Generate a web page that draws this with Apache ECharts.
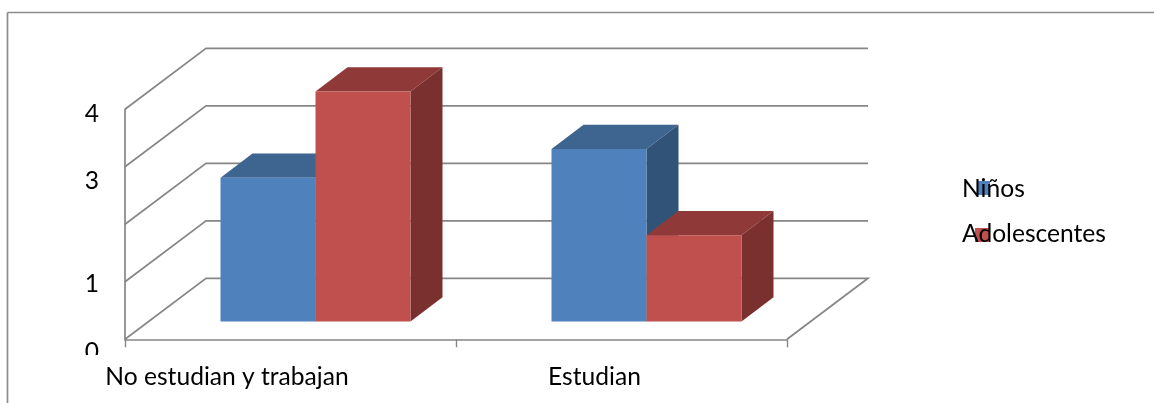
<!DOCTYPE html>
<html>
<head>
<meta charset="utf-8">
<style>html,body{margin:0;padding:0;background:#fff}#chart{width:1154px;height:403px}</style>
<script src="https://cdn.jsdelivr.net/npm/echarts@6/dist/echarts.min.js"></script>
</head>
<body>
<div id="chart"></div>
<script>
// Chart data
const categories = ['No estudian y trabajan', 'Estudian'];
const ninos = [2.5, 3];
const adolescentes = [4, 1.5];
const gridValues = [0, 1, 2, 3, 4];
const seriesNames = ['Niños', 'Adolescentes'];

// Oblique projection of the 3D box: back wall and bar depth, in pixels
const WALL_DX = 81, WALL_DY = -61;
const BAR_OFFSET_X = 25, BAR_OFFSET_Y = -17.7;
const BAR_DX = 32, BAR_DY = -24.3;
const BAR_SHARE = 0.287;
const LINE = '#868686';
const FONT = 'Lato';
const FONT_SIZE = 24.6;

const palette = [
  { front: '#4F81BD', top: '#3E6490', side: '#325378' },
  { front: '#C0504D', top: '#8F3A38', side: '#7A302E' }
];

function poly(points, fill) {
  return { type: 'polygon', shape: { points }, style: { fill, stroke: null } };
}

// Draws one box per category; slot 0 sits left of slot 1
function boxRenderer(slot) {
  const colors = palette[slot];
  return function (params, api) {
    const cat = api.value(0);
    const top = api.coord([cat, api.value(1)]);
    const base = api.coord([cat, 0]);
    const w = api.size([1, 0])[0] * BAR_SHARE;
    const x0 = top[0] + BAR_OFFSET_X - w + slot * w;
    const x1 = x0 + w;
    const yT = top[1] + BAR_OFFSET_Y;
    const yB = base[1] + BAR_OFFSET_Y;
    return {
      type: 'group',
      children: [
        poly([[x0, yT], [x1, yT], [x1 + BAR_DX, yT + BAR_DY], [x0 + BAR_DX, yT + BAR_DY]], colors.top),
        poly([[x1, yT], [x1 + BAR_DX, yT + BAR_DY], [x1 + BAR_DX, yB + BAR_DY], [x1, yB]], colors.side),
        poly([[x0, yT], [x1, yT], [x1, yB], [x0, yB]], colors.front)
      ]
    };
  };
}

// Side wall and back wall rules for each value, plus the floor's right edge
function wallRenderer(params, api) {
  const v = api.value(0);
  const y = api.coord([0, v])[1];
  const xL = params.coordSys.x;
  const xR = xL + params.coordSys.width;
  const pts = [[xL, y], [xL + WALL_DX, y + WALL_DY], [xR + WALL_DX, y + WALL_DY]];
  if (v === 0) pts.push([xR, y]);
  return {
    type: 'polyline',
    shape: { points: pts },
    style: { stroke: LINE, lineWidth: 1.7, fill: null }
  };
}

// Value labels sit unevenly beside the wall, and 2 has none
const yLabelDrop = { 0: 26, 1: 4, 3: 29, 4: 10 };
const yRich = {};
Object.keys(yLabelDrop).forEach(k => {
  yRich['v' + k] = { fontFamily: FONT, fontSize: FONT_SIZE, color: '#000', padding: [yLabelDrop[k], 0, 0, 0] };
});

// Category labels sit left of their band centres
const xLabelShift = [127, 54];
const xRich = {};
categories.forEach((c, i) => {
  xRich['c' + i] = { fontFamily: FONT, fontSize: FONT_SIZE, color: '#000', padding: [0, xLabelShift[i], 0, 0] };
});

const legendX = 962, legendY = [189, 234];
const legendSwatch = [[977, 181, 13, 14], [975, 228, 14, 14]];
const legendGraphics = [];
seriesNames.forEach((name, i) => {
  const s = legendSwatch[i];
  legendGraphics.push({ type: 'rect', z: 10, shape: { x: s[0], y: s[1], width: s[2], height: s[3] }, style: { fill: palette[i].front } });
  legendGraphics.push({ type: 'text', z: 11, x: legendX, y: legendY[i], style: { text: name, fontFamily: FONT, fontSize: FONT_SIZE, fill: '#000', verticalAlign: 'middle' } });
});

const chart = echarts.init(document.getElementById('chart'), null, { renderer: 'canvas' });
chart.setOption({
  animation: false,
  backgroundColor: '#fff',
  grid: { left: 125, top: 109.3, width: 662, height: 230 },
  xAxis: {
    type: 'category',
    data: categories,
    axisLine: { lineStyle: { color: LINE, width: 1.7 } },
    axisTick: { show: true, length: 8, alignWithLabel: false, lineStyle: { color: LINE, width: 1.4 } },
    axisLabel: {
      margin: 25,
      interval: 0,
      formatter: (v, i) => `{c${i}|${v}}`,
      rich: xRich
    }
  },
  yAxis: {
    type: 'value',
    min: 0,
    max: 4,
    interval: 1,
    axisLine: { show: true, lineStyle: { color: LINE, width: 1.7 } },
    axisTick: { show: false },
    splitLine: { show: false },
    axisLabel: {
      margin: 26,
      formatter: v => (yLabelDrop[v] === undefined ? '' : `{v${v}|${v}}`),
      rich: yRich
    }
  },
  series: [
    {
      type: 'custom',
      name: 'paredes',
      renderItem: wallRenderer,
      coordinateSystem: 'cartesian2d',
      clip: false,
      silent: true,
      encode: { y: 0 },
      data: gridValues.map(v => [v]),
      z: 1
    },
    ...[ninos, adolescentes].map((values, slot) => ({
      type: 'custom',
      name: seriesNames[slot],
      renderItem: boxRenderer(slot),
      coordinateSystem: 'cartesian2d',
      clip: false,
      encode: { x: 0, y: 1 },
      data: values.map((v, i) => [i, v]),
      z: 2 + slot
    }))
  ],
  graphic: [
    // Chart frame: top and left edges only
    { type: 'line', z: 9, shape: { x1: 7.5, y1: 12.5, x2: 1154, y2: 12.5 }, style: { stroke: '#8C8C8C', lineWidth: 1.7 } },
    { type: 'line', z: 9, shape: { x1: 7.5, y1: 12.5, x2: 7.5, y2: 403 }, style: { stroke: '#8C8C8C', lineWidth: 1.7 } },
    // The lowest value label is cut off by the plot area's clip
    { type: 'rect', z: 8, shape: { x: 70, y: 355, width: 40, height: 9 }, style: { fill: '#fff' } },
    ...legendGraphics
  ]
});
</script>
</body>
</html>
